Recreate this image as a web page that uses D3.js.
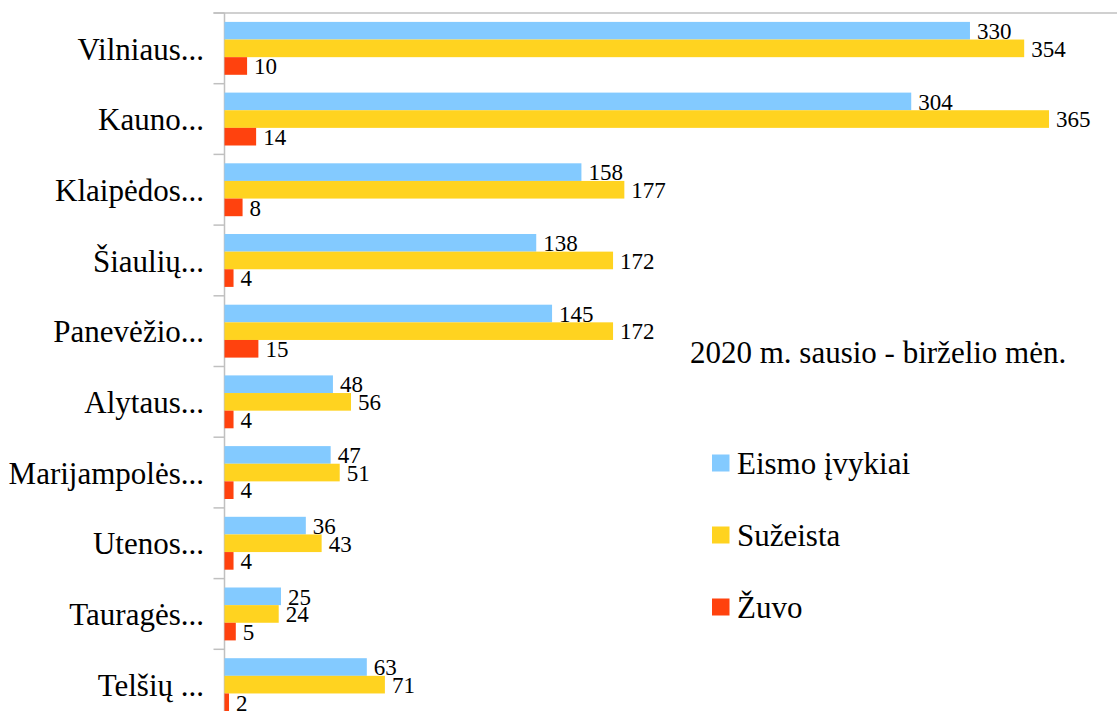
<!DOCTYPE html>
<html>
<head>
<meta charset="utf-8">
<script src="https://cdn.jsdelivr.net/npm/d3@7"></script>
<style>
  body { margin: 0; background: #fff; }
  text { font-family: "Liberation Serif", "Times New Roman", Times, "DejaVu Serif", serif; }
</style>
</head>
<body>
<div id="chart"></div>
<script>
const categories = ["Vilniaus...", "Kauno...", "Klaipėdos...", "Šiaulių...", "Panevėžio...",
  "Alytaus...", "Marijampolės...", "Utenos...", "Tauragės...", "Telšių ..."];
const seriesNames = ["Eismo įvykiai", "Sužeista", "Žuvo"];
const eismoIvykiai = [330, 304, 158, 138, 145, 48, 47, 36, 25, 63];
const suzeista = [354, 365, 177, 172, 172, 56, 51, 43, 24, 71];
const zuvo = [10, 14, 8, 4, 15, 4, 4, 4, 5, 2];
const colors = ["#83caff", "#ffd320", "#ff420e"];
const title = "2020 m. sausio - birželio mėn.";

const width = 1117, height = 711;
const plot = { left: 224.5, top: 13, bandH: 70.7 };
const serif = "'Liberation Serif', 'Times New Roman', Times, 'DejaVu Serif', serif";

const svg = d3.select("#chart").append("svg")
  .attr("width", width)
  .attr("height", height)
  .attr("font-family", serif);

const x = d3.scaleLinear().domain([0, 400]).range([plot.left, plot.left + 400 * 2.259]);
const y = d3.scaleBand().domain(categories)
  .range([plot.top, plot.top + plot.bandH * categories.length]);
const ySub = d3.scaleBand().domain(seriesNames).range([8.9, plot.bandH - 8.9]);

const values = [eismoIvykiai, suzeista, zuvo];
const rows = categories.map((c, i) => ({
  cat: c,
  vals: seriesNames.map((s, k) => ({ s, k, v: values[k][i] }))
}));

// top border of the plot area
svg.append("line")
  .attr("x1", plot.left - 11).attr("x2", width)
  .attr("y1", plot.top).attr("y2", plot.top)
  .attr("stroke", "#c0c0c0").attr("stroke-width", 1.5);

// category axis, ticks between the groups
const yAxis = svg.append("g");
yAxis.append("line")
  .attr("x1", plot.left).attr("x2", plot.left)
  .attr("y1", plot.top).attr("y2", height)
  .attr("stroke", "#c0c0c0").attr("stroke-width", 1.5);
yAxis.selectAll("line.tick")
  .data(categories)
  .join("line")
  .attr("class", "tick")
  .attr("x1", plot.left - 11).attr("x2", plot.left)
  .attr("y1", d => y(d)).attr("y2", d => y(d))
  .attr("stroke", "#c0c0c0").attr("stroke-width", 1.5);
yAxis.selectAll("text")
  .data(categories)
  .join("text")
  .attr("x", 204)
  .attr("y", d => y(d) + y.bandwidth() / 2)
  .attr("dy", "0.36em")
  .attr("text-anchor", "end")
  .attr("font-size", 31)
  .attr("fill", "#000")
  .text(d => d);

// bars
const groups = svg.append("g").selectAll("g")
  .data(rows)
  .join("g")
  .attr("transform", d => `translate(0,${y(d.cat)})`);

groups.selectAll("rect")
  .data(d => d.vals)
  .join("rect")
  .attr("x", x(0))
  .attr("y", d => ySub(d.s))
  .attr("width", d => x(d.v) - x(0))
  .attr("height", ySub.bandwidth())
  .attr("fill", d => colors[d.k]);

groups.selectAll("text")
  .data(d => d.vals)
  .join("text")
  .attr("x", d => x(d.v) + 7)
  .attr("y", d => ySub(d.s) + ySub.bandwidth() / 2)
  .attr("dy", "0.36em")
  .attr("font-size", 23)
  .attr("fill", "#000")
  .text(d => d.v);

// title
svg.append("text")
  .attr("x", 690)
  .attr("y", 363)
  .attr("font-size", 31)
  .attr("fill", "#000")
  .text(title);

// legend
const legend = svg.append("g").selectAll("g")
  .data(seriesNames)
  .join("g")
  .attr("transform", (d, i) => `translate(712,${463 + i * 72})`);
legend.append("rect")
  .attr("x", 0).attr("y", -8.5)
  .attr("width", 17.5).attr("height", 17)
  .attr("fill", (d, i) => colors[i]);
legend.append("text")
  .attr("x", 25)
  .attr("y", 0)
  .attr("dy", "0.36em")
  .attr("font-size", 31)
  .attr("fill", "#000")
  .text(d => d);
</script>
</body>
</html>
